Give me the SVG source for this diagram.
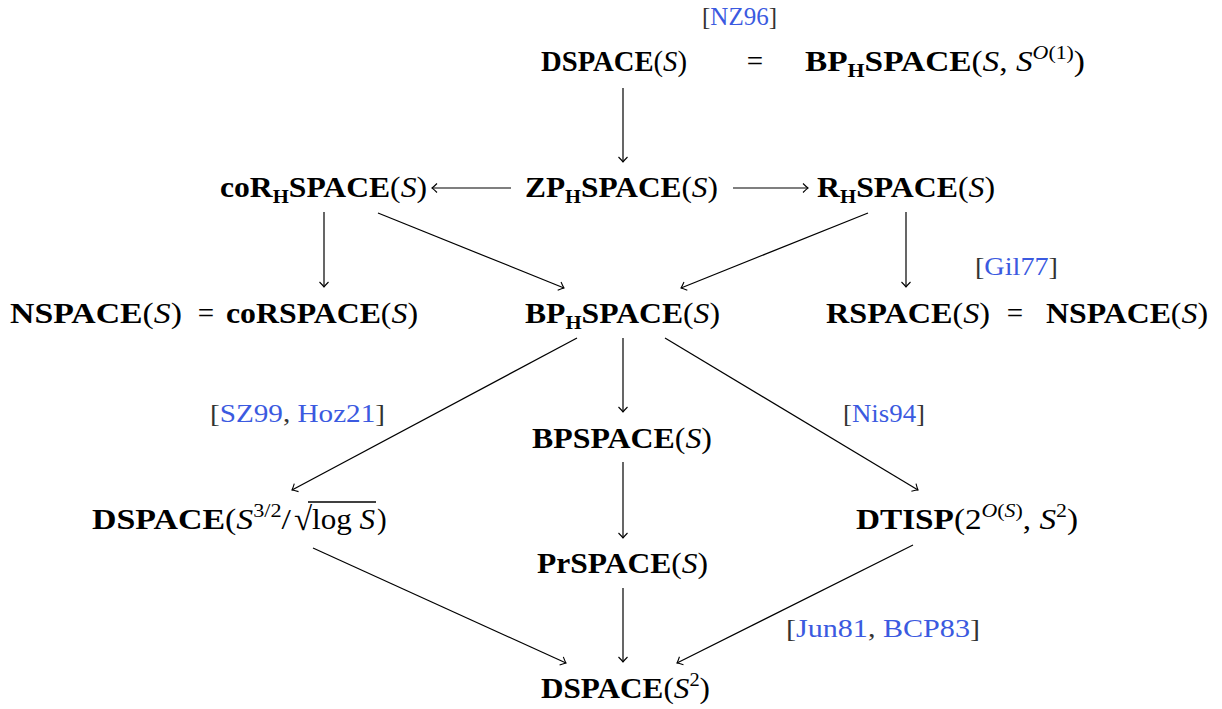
<svg xmlns="http://www.w3.org/2000/svg" width="1222" height="709" viewBox="0 0 1222 709" font-family="'Liberation Serif', 'Times New Roman', serif">
<style>
text{font-family:'Liberation Serif','Times New Roman',serif}
.n{font-size:29px;fill:#000}
.b{font-weight:bold}
.i{font-style:italic}
.sub{font-size:19px;font-weight:bold}
.sup{font-size:19px}
.l{font-size:25px;fill:#333}
.c{fill:#3b5ae0}
.e{stroke:#000;stroke-width:1.2;fill:none}
</style>
<defs>
<marker id="ah" markerUnits="userSpaceOnUse" viewBox="-7 -6 8 12" markerWidth="8" markerHeight="12" refX="0" refY="0" orient="auto">
<path d="M -5 -4.5 Q -1.5 -1 0 0 Q -1.5 1 -5 4.5" stroke="#000" stroke-width="1.1" fill="none"/>
</marker>
</defs>
<rect width="1222" height="709" fill="#fff"/>
<g id="connectors">
<line class="e" x1="623" y1="88" x2="623" y2="162" marker-end="url(#ah)"/>
<line class="e" x1="511" y1="188" x2="432" y2="188" marker-end="url(#ah)"/>
<line class="e" x1="733" y1="188" x2="808" y2="188" marker-end="url(#ah)"/>
<line class="e" x1="324" y1="212" x2="324" y2="287" marker-end="url(#ah)"/>
<line class="e" x1="378" y1="213" x2="564" y2="288" marker-end="url(#ah)"/>
<line class="e" x1="868" y1="213" x2="681" y2="288" marker-end="url(#ah)"/>
<line class="e" x1="906" y1="212" x2="906" y2="287" marker-end="url(#ah)"/>
<line class="e" x1="577" y1="338" x2="292" y2="490" marker-end="url(#ah)"/>
<line class="e" x1="623" y1="338" x2="623" y2="412" marker-end="url(#ah)"/>
<line class="e" x1="665" y1="338" x2="918" y2="490" marker-end="url(#ah)"/>
<line class="e" x1="623" y1="462" x2="623" y2="538" marker-end="url(#ah)"/>
<line class="e" x1="313" y1="548" x2="566" y2="663" marker-end="url(#ah)"/>
<line class="e" x1="623" y1="588" x2="623" y2="662" marker-end="url(#ah)"/>
<line class="e" x1="913" y1="545" x2="677" y2="663" marker-end="url(#ah)"/>
</g>
<g id="labels">
<text class="l" x="702" y="25" textLength="75" lengthAdjust="spacingAndGlyphs">[<tspan class="c">NZ96</tspan>]</text>
<text class="l" x="975" y="275" textLength="83" lengthAdjust="spacingAndGlyphs">[<tspan class="c">Gil77</tspan>]</text>
<text class="l" x="210" y="422" textLength="175" lengthAdjust="spacingAndGlyphs">[<tspan class="c">SZ99</tspan>, <tspan class="c">Hoz21</tspan>]</text>
<text class="l" x="843" y="422" textLength="82" lengthAdjust="spacingAndGlyphs">[<tspan class="c">Nis94</tspan>]</text>
<text class="l" x="786" y="637" textLength="194" lengthAdjust="spacingAndGlyphs">[<tspan class="c">Jun81</tspan>, <tspan class="c">BCP83</tspan>]</text>
</g>
<g id="n-dspace-s">
<text class="n" x="541" y="71" textLength="146" lengthAdjust="spacingAndGlyphs"><tspan class="b">DSPACE</tspan>(<tspan class="i">S</tspan>)</text>
</g>
<g id="eq-top"><text class="n" x="755" y="71" text-anchor="middle">=</text></g>
<g id="n-bph-top">
<text class="n" x="805" y="71" textLength="280" lengthAdjust="spacingAndGlyphs"><tspan class="b">BP</tspan><tspan class="sub" dy="6">H</tspan><tspan class="b" dy="-6">SPACE</tspan>(<tspan class="i">S</tspan>, <tspan class="i">S</tspan><tspan class="sup" dy="-12"><tspan class="i">O</tspan>(1)</tspan><tspan dy="12">)</tspan></text>
</g>
<g id="n-corh">
<text class="n" x="220" y="197" textLength="207" lengthAdjust="spacingAndGlyphs"><tspan class="b">coR</tspan><tspan class="sub" dy="6">H</tspan><tspan class="b" dy="-6">SPACE</tspan>(<tspan class="i">S</tspan>)</text>
</g>
<g id="n-zph">
<text class="n" x="525" y="197" textLength="193" lengthAdjust="spacingAndGlyphs"><tspan class="b">ZP</tspan><tspan class="sub" dy="6">H</tspan><tspan class="b" dy="-6">SPACE</tspan>(<tspan class="i">S</tspan>)</text>
</g>
<g id="n-rh">
<text class="n" x="817" y="197" textLength="178" lengthAdjust="spacingAndGlyphs"><tspan class="b">R</tspan><tspan class="sub" dy="6">H</tspan><tspan class="b" dy="-6">SPACE</tspan>(<tspan class="i">S</tspan>)</text>
</g>
<g id="n-nspace-left">
<text class="n" x="10" y="323" textLength="172" lengthAdjust="spacingAndGlyphs"><tspan class="b">NSPACE</tspan>(<tspan class="i">S</tspan>)</text>
<text class="n" x="206" y="323" text-anchor="middle">=</text>
<text class="n" x="226" y="323" textLength="192" lengthAdjust="spacingAndGlyphs"><tspan class="b">coRSPACE</tspan>(<tspan class="i">S</tspan>)</text>
</g>
<g id="n-bph">
<text class="n" x="525" y="323" textLength="195" lengthAdjust="spacingAndGlyphs"><tspan class="b">BP</tspan><tspan class="sub" dy="6">H</tspan><tspan class="b" dy="-6">SPACE</tspan>(<tspan class="i">S</tspan>)</text>
</g>
<g id="n-rspace">
<text class="n" x="826" y="323" textLength="164" lengthAdjust="spacingAndGlyphs"><tspan class="b">RSPACE</tspan>(<tspan class="i">S</tspan>)</text>
<text class="n" x="1015" y="323" text-anchor="middle">=</text>
<text class="n" x="1046" y="323" textLength="162" lengthAdjust="spacingAndGlyphs"><tspan class="b">NSPACE</tspan>(<tspan class="i">S</tspan>)</text>
</g>
<g id="n-bpspace">
<text class="n" x="532" y="448" textLength="180" lengthAdjust="spacingAndGlyphs"><tspan class="b">BPSPACE</tspan>(<tspan class="i">S</tspan>)</text>
</g>
<g id="n-dspace-32">
<text class="n" x="92" y="529" textLength="199" lengthAdjust="spacingAndGlyphs"><tspan class="b">DSPACE</tspan>(<tspan class="i">S</tspan><tspan class="sup" dy="-12">3/2</tspan><tspan dy="12">/</tspan></text>
<text class="n" x="294" y="530" style="font-size:33px">√</text>
<text class="n" x="312" y="529" textLength="63" lengthAdjust="spacingAndGlyphs">log <tspan class="i">S</tspan></text>
<text class="n" x="377" y="529">)</text>
<line x1="308" y1="502" x2="376" y2="502" stroke="#000" stroke-width="1.3"/>
</g>
<g id="n-dtisp">
<text class="n" x="856" y="529" textLength="222" lengthAdjust="spacingAndGlyphs"><tspan class="b">DTISP</tspan>(2<tspan class="sup" dy="-12"><tspan class="i">O</tspan>(<tspan class="i">S</tspan>)</tspan><tspan dy="12">, </tspan><tspan class="i">S</tspan><tspan class="sup" dy="-12">2</tspan><tspan dy="12">)</tspan></text>
</g>
<g id="n-prspace">
<text class="n" x="537" y="573" textLength="171" lengthAdjust="spacingAndGlyphs"><tspan class="b">PrSPACE</tspan>(<tspan class="i">S</tspan>)</text>
</g>
<g id="n-dspace-s2">
<text class="n" x="541" y="698" textLength="169" lengthAdjust="spacingAndGlyphs"><tspan class="b">DSPACE</tspan>(<tspan class="i">S</tspan><tspan class="sup" dy="-12">2</tspan><tspan dy="12">)</tspan></text>
</g>
</svg>
